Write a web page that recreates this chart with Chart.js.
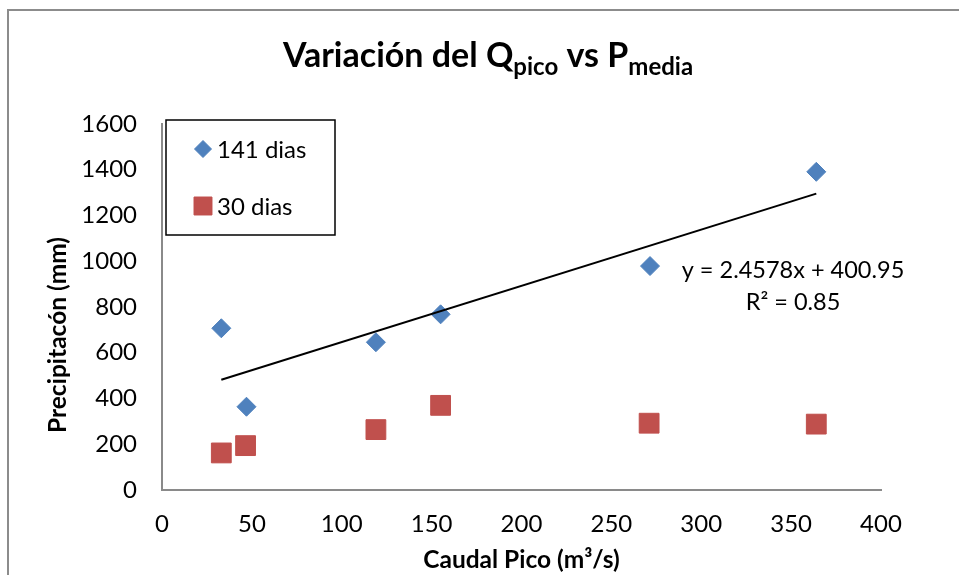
<!DOCTYPE html>
<html lang="es">
<head>
  <meta charset="UTF-8" />
  <title>Variación del Qpico vs Pmedia</title>
  <script src="https://cdn.jsdelivr.net/npm/chart.js"></script>
  <style>
    body {
      margin: 0;
      background-color: #ffffff;
    }
    #wrap {
      width: 959px;
      height: 575px;
      position: relative;
    }
  </style>
</head>
<body>
  <div id="wrap">
    <canvas id="qChart" width="959" height="575"></canvas>
  </div>

  <script>
    // Datos
    const caudal141 = [33, 47, 119, 155, 271.5, 364];
    const precip141 = [707, 364, 646, 768, 979, 1391];
    const caudal30 = [33, 46.5, 119, 155, 271, 364];
    const precip30 = [162, 194, 264, 370, 292, 288];

    const seriesNames = ["141 dias", "30 dias"];
    const trendSlope = 2.4578;
    const trendIntercept = 400.95;
    const trendText = ["y = 2.4578x + 400.95", "R\u00b2 = 0.85"];

    const xTicks = [0, 50, 100, 150, 200, 250, 300, 350, 400];
    const yTicks = [0, 200, 400, 600, 800, 1000, 1200, 1400, 1600];

    const FONT = "Lato, 'Open Sans', sans-serif";
    const BLUE = "#4f81bd";
    const RED = "#c0504d";
    const AXIS = "#8a8a8a";

    function toPoints(xs, ys) {
      return xs.map((x, i) => ({ x: x, y: ys[i] }));
    }

    // linea de tendencia entre el minimo y maximo caudal de la serie 141 dias
    const xMin = Math.min(...caudal141);
    const xMax = Math.max(...caudal141);
    const trendPoints = [
      { x: xMin, y: trendSlope * xMin + trendIntercept },
      { x: xMax, y: trendSlope * xMax + trendIntercept }
    ];

    // titulos, leyenda, ecuacion y marco
    const extras = {
      id: "extras",
      beforeDraw(chart) {
        const ctx = chart.ctx;
        ctx.save();
        ctx.strokeStyle = "#8c8c8c";
        ctx.lineWidth = 2;
        ctx.beginPath();
        ctx.moveTo(8, 575);
        ctx.lineTo(8, 10);
        ctx.lineTo(959, 10);
        ctx.stroke();
        ctx.restore();
      },
      afterDraw(chart) {
        const ctx = chart.ctx;
        const area = chart.chartArea;
        ctx.save();
        ctx.fillStyle = "#000000";
        ctx.textBaseline = "alphabetic";

        // titulo con subindices
        const parts = [
          ["Variaci\u00f3n del Q", 34, 0],
          ["pico", 24, 8],
          [" vs P", 34, 0],
          ["media", 24, 8]
        ];
        let total = 0;
        parts.forEach(p => {
          ctx.font = "bold " + p[1] + "px " + FONT;
          total += ctx.measureText(p[0]).width;
        });
        let tx = 488 - total / 2;
        ctx.textAlign = "left";
        parts.forEach(p => {
          ctx.font = "bold " + p[1] + "px " + FONT;
          ctx.fillText(p[0], tx, 67 + p[2]);
          tx += ctx.measureText(p[0]).width;
        });

        // titulo eje x
        ctx.font = "bold 24.5px " + FONT;
        ctx.textAlign = "center";
        ctx.fillText("Caudal Pico (m\u00b3/s)", (area.left + area.right) / 2, 568);

        // titulo eje y
        ctx.save();
        ctx.translate(66, 335);
        ctx.rotate(-Math.PI / 2);
        ctx.font = "bold 24.5px " + FONT;
        ctx.fillText("Precipitac\u00f3n (mm)", 0, 0);
        ctx.restore();

        // leyenda
        ctx.fillStyle = "#ffffff";
        ctx.fillRect(166, 120, 169, 115);
        ctx.strokeStyle = "#000000";
        ctx.lineWidth = 1.5;
        ctx.strokeRect(166, 120, 169, 115);
        const rows = [149, 206];
        const radii = [8.5, 12.7];
        chart.data.datasets.slice(0, 2).forEach((ds, i) => {
          ctx.fillStyle = ds.backgroundColor;
          ctx.strokeStyle = ds.borderColor;
          ctx.lineWidth = 1;
          Chart.helpers.drawPoint(ctx, {
            pointStyle: ds.pointStyle,
            radius: radii[i],
            rotation: 0,
            borderWidth: 1
          }, 203, rows[i]);
          ctx.fillStyle = "#000000";
          ctx.font = "24px " + FONT;
          ctx.textAlign = "left";
          ctx.textBaseline = "middle";
          ctx.fillText(ds.label, 217, rows[i] + 1);
        });

        // ecuacion de la tendencia
        ctx.textAlign = "center";
        ctx.textBaseline = "alphabetic";
        ctx.font = "23.5px " + FONT;
        ctx.fillText(trendText[0], 793, 278);
        ctx.fillText(trendText[1], 793, 310);
        ctx.restore();
      }
    };

    const chart = new Chart(document.getElementById("qChart"), {
      type: "scatter",
      data: {
        datasets: [
          {
            label: seriesNames[0],
            data: toPoints(caudal141, precip141),
            pointStyle: "rectRot",
            pointRadius: 9.5,
            backgroundColor: BLUE,
            borderColor: BLUE,
            borderWidth: 1,
            order: 2
          },
          {
            label: seriesNames[1],
            data: toPoints(caudal30, precip30),
            pointStyle: "rect",
            pointRadius: 14,
            backgroundColor: RED,
            borderColor: RED,
            borderWidth: 1,
            order: 2
          },
          {
            label: "Tendencia",
            type: "line",
            data: trendPoints,
            borderColor: "#000000",
            borderWidth: 2,
            pointRadius: 0,
            fill: false,
            order: 1
          }
        ]
      },
      options: {
        responsive: false,
        animation: false,
        layout: {
          padding: { top: 124, right: 78, left: 0, bottom: 0 }
        },
        plugins: {
          legend: { display: false },
          tooltip: { enabled: false },
          title: { display: false }
        },
        scales: {
          x: {
            type: "linear",
            min: xTicks[0],
            max: xTicks[xTicks.length - 1],
            afterFit: s => { s.height = 85; },
            afterBuildTicks: s => { s.ticks = xTicks.map(v => ({ value: v })); },
            grid: { display: false, drawTicks: false },
            border: { display: true, color: AXIS, width: 2 },
            ticks: {
              padding: 20,
              color: "#000000",
              font: { family: FONT, size: 24 },
              callback: v => String(v)
            }
          },
          y: {
            type: "linear",
            min: yTicks[0],
            max: yTicks[yTicks.length - 1],
            afterFit: s => { s.width = 162; },
            afterBuildTicks: s => { s.ticks = yTicks.map(v => ({ value: v })); },
            grid: { display: false, drawTicks: false },
            border: { display: true, color: AXIS, width: 2 },
            ticks: {
              padding: 25,
              color: "#000000",
              font: { family: FONT, size: 24 },
              callback: v => String(v)
            }
          }
        }
      },
      plugins: [extras]
    });
  </script>
</body>
</html>
